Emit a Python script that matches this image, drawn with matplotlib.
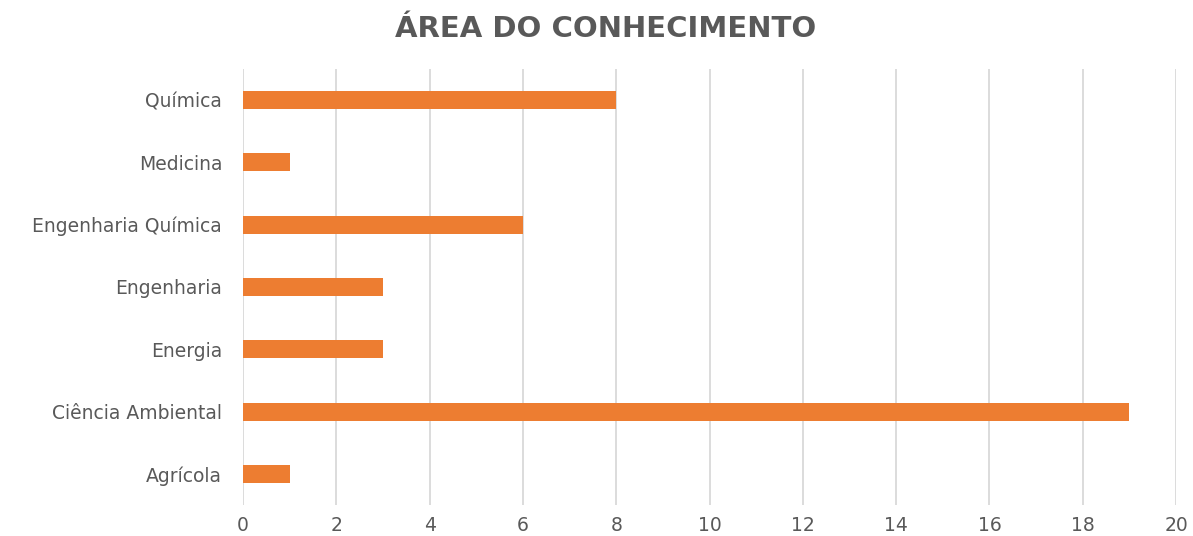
import matplotlib
matplotlib.use("Agg")
import matplotlib.pyplot as plt

# Data (top to bottom as shown in the chart)
categories = ["Química", "Medicina", "Engenharia Química", "Engenharia",
              "Energia", "Ciência Ambiental", "Agrícola"]
counts = [8, 1, 6, 3, 3, 19, 1]
xticks = [0, 2, 4, 6, 8, 10, 12, 14, 16, 18, 20]

plt.rcParams['font.family'] = ['DejaVu Sans']
grey = "#595959"

fig = plt.figure(figsize=(11.93, 5.36), dpi=100)
ax = fig.add_axes([243 / 1193, 31 / 536, (1176 - 243) / 1193, (505 - 69) / 536])

ypos = list(range(len(categories)))[::-1]
ax.barh(ypos, counts, height=0.29, color="#ED7D31", zorder=3)

ax.set_xlim(0, 20)
ax.set_ylim(-0.5, len(categories) - 0.5)
ax.set_xticks(xticks)
ax.set_yticks(ypos)
ax.set_yticklabels(categories)
ax.tick_params(axis='both', length=0, colors=grey, labelsize=13.5)
ax.tick_params(axis='y', pad=15)
ax.tick_params(axis='x', pad=8)
ax.grid(axis='x', color="#D9D9D9", linewidth=1.3, zorder=0)
for s in ax.spines.values():
    s.set_visible(False)

fig.suptitle("ÁREA DO CONHECIMENTO", x=(372 + 840) / 2 / 1193, y=1 - 29 / 536,
             va='center', fontsize=21, fontweight='bold', color=grey)

fig.savefig("out.png", dpi=100)
